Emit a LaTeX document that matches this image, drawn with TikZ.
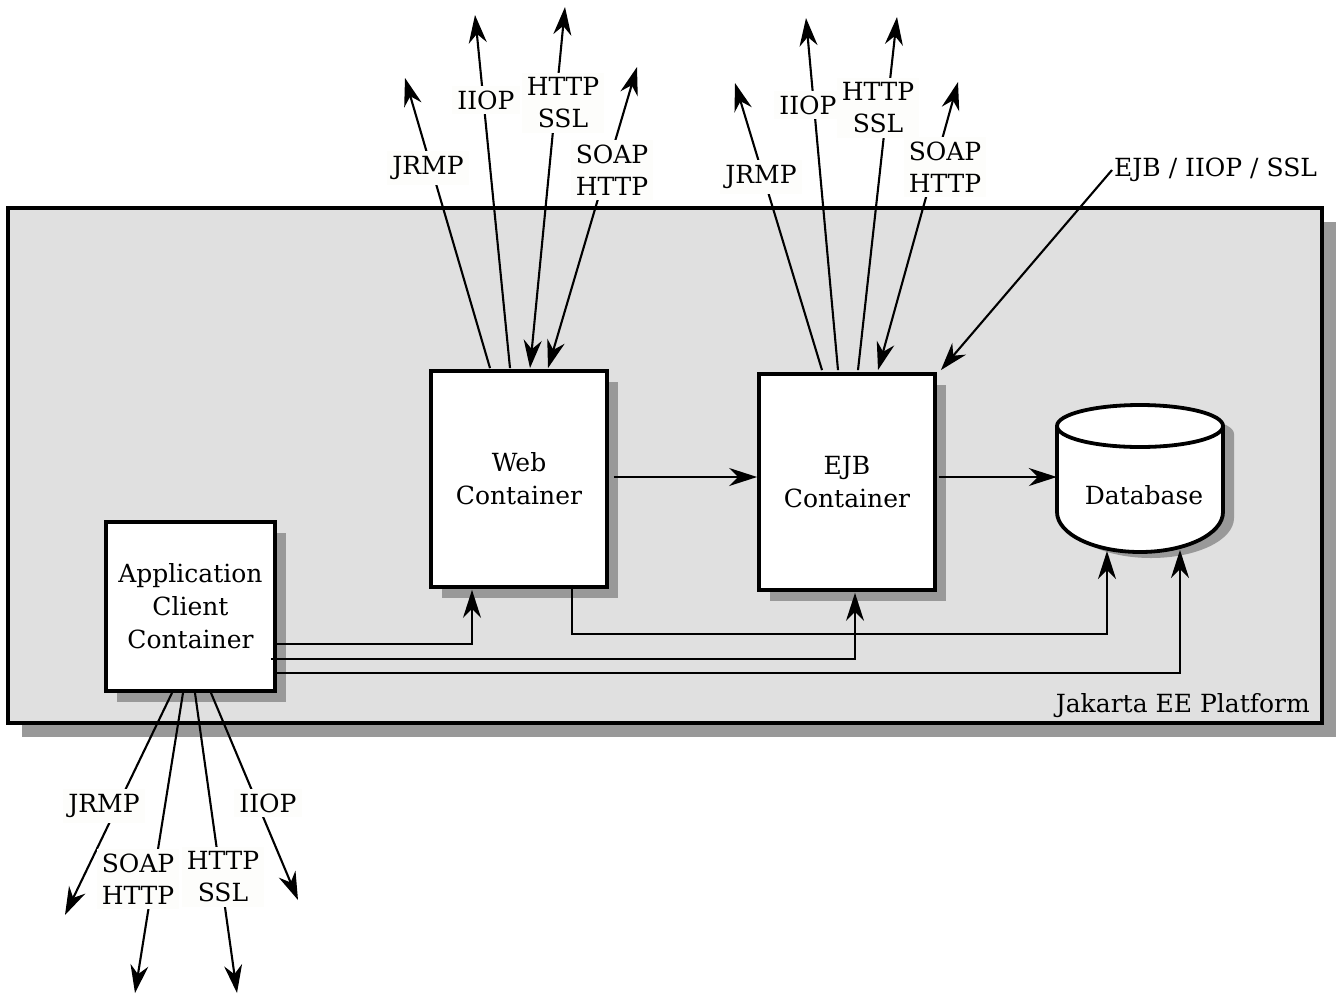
\documentclass[tikz,border=0pt]{standalone}
\usepackage{fontspec}
\setmainfont{DejaVu Serif}
\usetikzlibrary{arrows.meta,shadows,calc}
\definecolor{platgray}{HTML}{E0E0E0}
\definecolor{shadowgray}{HTML}{999999}
\definecolor{labbg}{HTML}{FDFDFB}
\begin{document}
\begin{tikzpicture}[x=1pt,y=-1pt,
  every node/.style={font=\fontsize{25}{33}\selectfont, align=center},
  box/.style={draw, line width=3.8pt, fill=white, minimum width=176pt, minimum height=216pt, inner sep=0pt,
    drop shadow={shadow xshift=11pt, shadow yshift=-11pt, fill=shadowgray, opacity=1}},
  conn/.style={line width=2.1pt},
  arr/.style={conn, -{Stealth[length=28pt,width=18pt,inset=9pt]}},
  barr/.style={conn, {Stealth[length=28pt,width=18pt,inset=9pt]}-{Stealth[length=28pt,width=18pt,inset=9pt]}},
  lab/.style={fill=labbg, inner xsep=5pt, inner ysep=5pt, font=\fontsize{25}{32}\selectfont}
]
\useasboundingbox (0,0) rectangle (1336,994);

% platform
\node[draw, line width=4pt, fill=platgray, minimum width=1314pt, minimum height=515pt, inner sep=0pt,
  drop shadow={shadow xshift=14pt, shadow yshift=-14pt, fill=shadowgray, opacity=1}] (plat) at (665,465.5) {};
\node[anchor=base east, inner sep=0pt] (platlab) at ($(plat.south east)+(-14,-13)$) {Jakarta EE Platform};

% database
\fill[shadowgray] (1068,434) -- (1068,518) arc[start angle=180,end angle=360,x radius=83pt,y radius=40pt]
  -- (1234,434) arc[start angle=0,end angle=180,x radius=83pt,y radius=21pt] -- cycle;
\draw[line width=3.8pt, fill=white] (1057,426) -- (1057,512) arc[start angle=180,end angle=360,x radius=83pt,y radius=40pt]
  -- (1223,426) arc[start angle=0,end angle=180,x radius=83pt,y radius=21pt] -- cycle;
\draw[line width=3.8pt] (1057,426) arc[start angle=180,end angle=360,x radius=83pt,y radius=21pt];
\node[inner sep=0pt, minimum width=166pt, minimum height=100pt] (db) at (1140,495) {\hspace*{8pt}Database};

% containers
\node[box, minimum width=169pt, minimum height=169pt] (app) at (190.5,606.5) {Application\\Client\\Container};
\node[box] (web) at (519,479) {Web\\Container};
\node[box] (ejb) at (847,482) {EJB\\Container};

% internal connectors
\draw[arr] ($(web.east)+(5,-2)$) -- ($(ejb.west)+(0,-5)$);
\draw[arr] ($(ejb.east)+(2,-5)$) -- ($(db.west)+(0,-18)$);
\draw[arr] ($(app.east)+(0,37.5)$) -| ($(web.south)+(-47,1)$);
\draw[arr] ($(app.east)+(-6,52.5)$) -| ($(ejb.south)+(8,1)$);
\draw[arr] ($(app.east)+(0,66.5)$) -| ($(db.center)+(40,55)$);
\draw[arr] ($(web.south)+(53,-4)$) -- ($(web.south)+(53,45)$) -| ($(db.center)+(-33,56)$);

% free ends
\coordinate (wjt) at (405,78);
\coordinate (wit) at (475,15);
\coordinate (wht) at (565,7);
\coordinate (wst) at (637,67);
\coordinate (ejt) at (735,83);
\coordinate (eit) at (806,18);
\coordinate (eht) at (897,17);
\coordinate (est) at (958,82);
\coordinate (ajt) at (65,915);
\coordinate (ast) at (135,993);
\coordinate (aht) at (237,993);
\coordinate (ait) at (298,900);

% web external
\draw[arr] ($(web.north)+(-29,-1)$) -- (wjt);
\draw[arr] ($(web.north)+(-9,-1)$) -- (wit);
\draw[barr] ($(web.north)+(11,-1)$) -- (wht);
\draw[barr] ($(web.north)+(29,-1)$) -- (wst);
% ejb external
\draw[arr] ($(ejb.north)+(-25,-2)$) -- (ejt);
\draw[arr] ($(ejb.north)+(-9,-2)$) -- (eit);
\draw[arr] ($(ejb.north)+(11,-2)$) -- (eht);
\draw[barr] ($(ejb.north)+(31,-2)$) -- (est);
\node[anchor=west, inner sep=2pt] (ejbl) at (1112,170) {EJB / IIOP / SSL};
\draw[arr] (ejbl.west) -- ($(ejb.north east)+(4,-2)$);
% app external
\draw[arr] ($(app.south)+(-18.5,0)$) -- (ajt);
\draw[arr] ($(app.south)+(-7.5,0)$) -- (ast);
\draw[arr] ($(app.south)+(4.5,0)$) -- (aht);
\draw[arr] ($(app.south)+(20.5,0)$) -- (ait);

% labels
\node[lab] (wjl) at (428,168) {JRMP};
\node[lab] (whl) at (563,103) {HTTP\\SSL};
\node[lab] (wil) at (486,100) {IIOP};
\node[lab] (wsl) at (612,170) {SOAP\\HTTP};
\node[lab] (ejl) at (761,177) {JRMP};
\node[lab] (ehl) at (878,108) {HTTP\\SSL};
\node[lab] (eil) at (808,105) {IIOP};
\node[lab] (esl) at (945,167) {SOAP\\HTTP};
\node[lab] (ajl) at (104,806) {JRMP};
\node[lab] (asl) at (138,879) {SOAP\\HTTP};
\node[lab] (ahl) at (223,877) {HTTP\\SSL};
\node[lab] (ail) at (268,803) {IIOP};
\end{tikzpicture}
\end{document}
